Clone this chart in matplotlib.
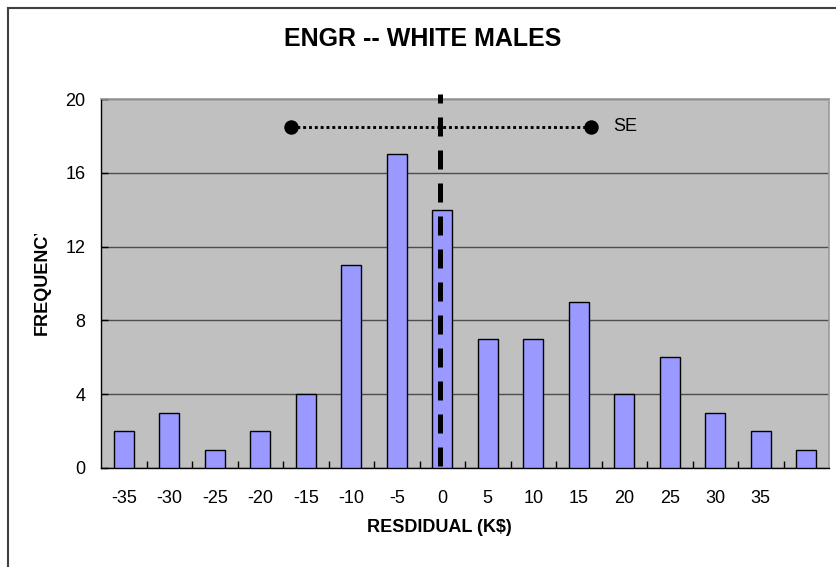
import matplotlib

matplotlib.use("Agg")
import matplotlib.pyplot as plt
from matplotlib.lines import Line2D
from matplotlib.transforms import Bbox

plt.rcParams["font.family"] = ["Liberation Sans", "DejaVu Sans"]

# histogram of residuals, bins 5 K$ wide
residual_bins = [-35, -30, -25, -20, -15, -10, -5, 0, 5, 10, 15, 20, 25, 30, 35, 40]
frequency = [2, 3, 1, 2, 4, 11, 17, 14, 7, 7, 9, 4, 6, 3, 2, 1]
tick_labels = ["-35", "-30", "-25", "-20", "-15", "-10", "-5", "0",
               "5", "10", "15", "20", "25", "30", "35", ""]
y_ticks = [0, 4, 8, 12, 16, 20]

mean_residual = -0.3
se_left, se_right = -16.6, 16.3
se_level = 18.5

W, H = 836, 567
fig = plt.figure(figsize=(W / 100, H / 100), dpi=100)
ax = fig.add_axes([101 / W, 1 - 468 / H, 728 / W, 369 / H])
ax.set_facecolor("#C0C0C0")

ax.bar(residual_bins, frequency, width=2.15, color="#9999FF",
       edgecolor="black", linewidth=1.0, zorder=3)

# mean line (dashed) and SE bar (dotted)
ax.plot([mean_residual, mean_residual], [20.25, -0.1], color="black", lw=3.6,
        linestyle=(2.0, (3.8, 2.8)), clip_on=False, zorder=5)
ax.plot([se_left, se_right], [se_level, se_level], color="black", lw=2.1,
        linestyle=(0, (1, 1)), marker="o", markersize=9.4,
        markevery=[0, 1], zorder=4)
ax.annotate("SE", xy=(se_right, se_level), xytext=(16, 0),
            textcoords="offset points", va="center", fontsize=13)

ax.set_xlim(-37.5, 42.5)
ax.set_ylim(0, 20)
ax.set_xticks(residual_bins)
ax.set_xticklabels(tick_labels)
ax.set_xticks([b + 2.5 for b in residual_bins[:-1]], minor=True)
ax.set_yticks(y_ticks)
ax.yaxis.grid(True, color="#4d4d4d", lw=1.0)
ax.set_axisbelow(True)

ax.tick_params(axis="x", which="major", length=0, labelsize=13, pad=16)
ax.tick_params(axis="x", which="minor", direction="in", length=5, width=1)
ax.tick_params(axis="y", direction="in", length=5, width=1, labelsize=13, pad=11)

for side in ("top", "right"):
    ax.spines[side].set_color("#9a9a9a")
    ax.spines[side].set_linewidth(1.2)
for side in ("left", "bottom"):
    ax.spines[side].set_color("black")
    ax.spines[side].set_linewidth(1.0)

fig.text(422.5 / W, 1 - 45.7 / H, "ENGR -- WHITE MALES", ha="center",
         va="baseline", fontsize=18, fontweight="bold")
fig.text(439 / W, 1 - 532 / H, "RESDIDUAL (K$)", ha="center",
         va="baseline", fontsize=13, fontweight="bold")
ylab = fig.text(47 / W, 1 - 335 / H, "FREQUENCY", rotation=90,
                rotation_mode="anchor", ha="left", va="baseline",
                fontsize=13, fontweight="bold")
# the label is cut off at the top in the original
ylab.set_clip_box(Bbox([[0, 0], [W, H - 234]]))
ylab.set_clip_on(True)

# outer chart border (top and left edges visible)
fig.add_artist(Line2D([8 / W, 1], [1 - 8 / H, 1 - 8 / H],
                      transform=fig.transFigure, color="#404040", lw=1.5))
fig.add_artist(Line2D([8 / W, 8 / W], [0, 1 - 8 / H],
                      transform=fig.transFigure, color="#404040", lw=1.5))

fig.savefig("out.png", dpi=100)
plt.close(fig)
